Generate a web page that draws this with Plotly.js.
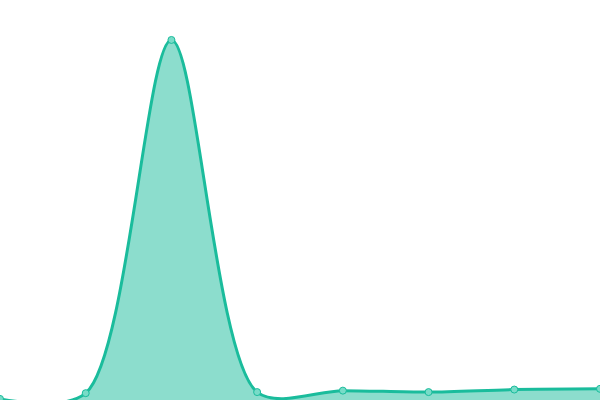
<!DOCTYPE html>
<html>
<head>
<meta charset="utf-8">
<script src="https://cdn.plot.ly/plotly-3.0.1.min.js"></script>
<style>
  html, body { margin: 0; padding: 0; background: #ffffff; }
  #graph { width: 600px; height: 400px; }
</style>
</head>
<body>
<div id="graph"></div>
<script>
"use strict";

// değerler
const xIndex = [0, 1, 2, 3, 4, 5, 6, 7];
const seriesValues = [0.3, 1.9, 100, 2.2, 2.6, 2.2, 2.9, 3.1];

const lineColor = '#1abc9c';

const trace = {
    x: xIndex,
    y: seriesValues,
    type: 'scatter',
    mode: 'lines+markers',
    fill: 'tozeroy',
    fillcolor: 'rgba(26, 188, 156, 0.5)',
    line: { color: lineColor, width: 3, shape: 'spline', smoothing: 0.85 },
    marker: { size: 7, color: 'rgba(120, 220, 200, 1)', line: { color: lineColor, width: 1 } },
    hoverinfo: 'none'
};

const layout = {
    width: 600, height: 400,
    margin: { t: 0, b: 0, l: 0, r: 0 },
    paper_bgcolor: '#ffffff', plot_bgcolor: '#ffffff',
    showlegend: false,
    xaxis: { range: [0, 7], visible: false, showgrid: false, zeroline: false },
    yaxis: { range: [0, 111.1], visible: false, showgrid: false, zeroline: false }
};

Plotly.newPlot('graph', [trace], layout, { displayModeBar: false, staticPlot: true });
</script>
</body>
</html>
